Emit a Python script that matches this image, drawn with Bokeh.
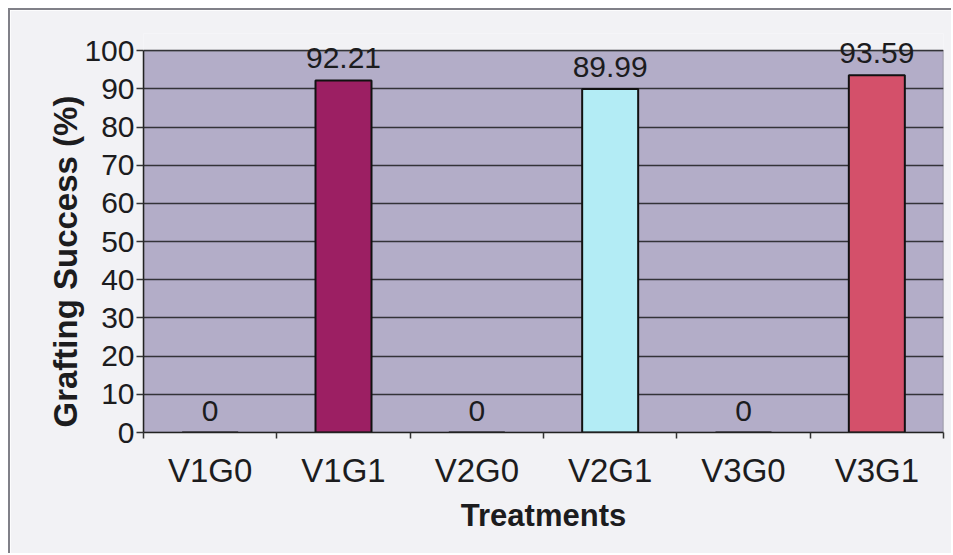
from bokeh.plotting import figure
from bokeh.models import FixedTicker, Range1d, Label, BoxAnnotation, Title
from bokeh.embed import file_html
from bokeh.resources import INLINE

treatments = ["V1G0", "V1G1", "V2G0", "V2G1", "V3G0", "V3G1"]
success = [0, 92.21, 0, 89.99, 0, 93.59]
bar_colors = ["#9c1f63", "#9c1f63", "#b3ecf5", "#b3ecf5", "#d4506a", "#d4506a"]
y_ticks = [0, 10, 20, 30, 40, 50, 60, 70, 80, 90, 100]
y_title = "Grafting Success (%)"
x_title = "Treatments"

xs = [i + 0.5 for i in range(len(treatments))]
labels = [f"{v:g}" for v in success]

FONT = "Liberation Sans"
TXT = "#1c1c1e"
PANEL = "#f2f2f5"

y_lo, y_hi = y_ticks[0], y_ticks[-1]

# a little headroom above the 100 line so that the value labels are not cut
p = figure(width=943, height=545, output_backend="svg", toolbar_location=None,
           x_range=Range1d(0, len(treatments)), y_range=Range1d(y_lo, y_hi * 1.045),
           min_border_left=133, min_border_right=10, min_border_top=23, min_border_bottom=123)
p.margin = (8, 0, 0, 8)
p.styles = {"border-left": "2px solid #808088", "border-top": "2px solid #808088"}

p.background_fill_color = PANEL
p.border_fill_color = PANEL
p.outline_line_color = None

# plot area (0..100)
p.add_layout(BoxAnnotation(bottom=y_lo, top=y_hi, fill_color="#b3adc8", fill_alpha=1,
                           line_color="#8c8c96", line_width=1.5, line_alpha=1,
                           level="image"))

p.vbar(x=xs, top=success, width=0.42, bottom=0, fill_color=bar_colors,
       line_color="#111111", line_width=2)

for x, v, t in zip(xs, success, labels):
    p.add_layout(Label(x=x, y=v, text=t, text_align="center",
                       text_baseline="bottom", y_offset=12, text_font=FONT,
                       text_font_size="30px", text_color=TXT))

# y-axis title, starting just above the bottom of the plot as in the original
p.add_layout(Title(text=y_title, align="left", offset=5, standoff=-4,
                   text_font=FONT, text_font_style="bold", text_font_size="33px",
                   text_color=TXT), "left")

# x axis
p.xaxis.ticker = FixedTicker(ticks=xs, minor_ticks=list(range(len(treatments) + 1)))
p.xaxis.major_label_overrides = {x: t for x, t in zip(xs, treatments)}
p.xaxis.major_tick_out = 0
p.xaxis.major_tick_in = 0
p.xaxis.minor_tick_out = 6
p.xaxis.minor_tick_in = 0
p.xaxis.minor_tick_line_color = "#333333"
p.xaxis.minor_tick_line_width = 1.5
p.xaxis.axis_line_color = "#222222"
p.xaxis.axis_line_width = 1.5
p.xaxis.major_label_standoff = 13
p.xaxis.major_label_text_font = FONT
p.xaxis.major_label_text_font_size = "33px"
p.xaxis.major_label_text_color = TXT
p.xaxis.axis_label = x_title
p.xaxis.axis_label_text_font = FONT
p.xaxis.axis_label_text_font_style = "bold"
p.xaxis.axis_label_text_font_size = "31px"
p.xaxis.axis_label_text_color = TXT
p.xaxis.axis_label_standoff = 6

# y axis
p.yaxis.ticker = FixedTicker(ticks=y_ticks, minor_ticks=[])
p.yaxis.bounds = (y_lo, y_hi)
p.yaxis.major_tick_out = 7
p.yaxis.major_tick_in = 0
p.yaxis.major_tick_line_color = "#333333"
p.yaxis.major_tick_line_width = 1.5
p.yaxis.axis_line_color = "#222222"
p.yaxis.axis_line_width = 1.5
p.yaxis.major_label_standoff = 2
p.yaxis.major_label_text_font = FONT
p.yaxis.major_label_text_font_size = "30px"
p.yaxis.major_label_text_color = TXT

p.xgrid.grid_line_color = None
p.ygrid.grid_line_color = "#333338"
p.ygrid.grid_line_width = 1.3
p.ygrid.bounds = (0, len(treatments))

open("out.html", "w").write(file_html(p, INLINE))
